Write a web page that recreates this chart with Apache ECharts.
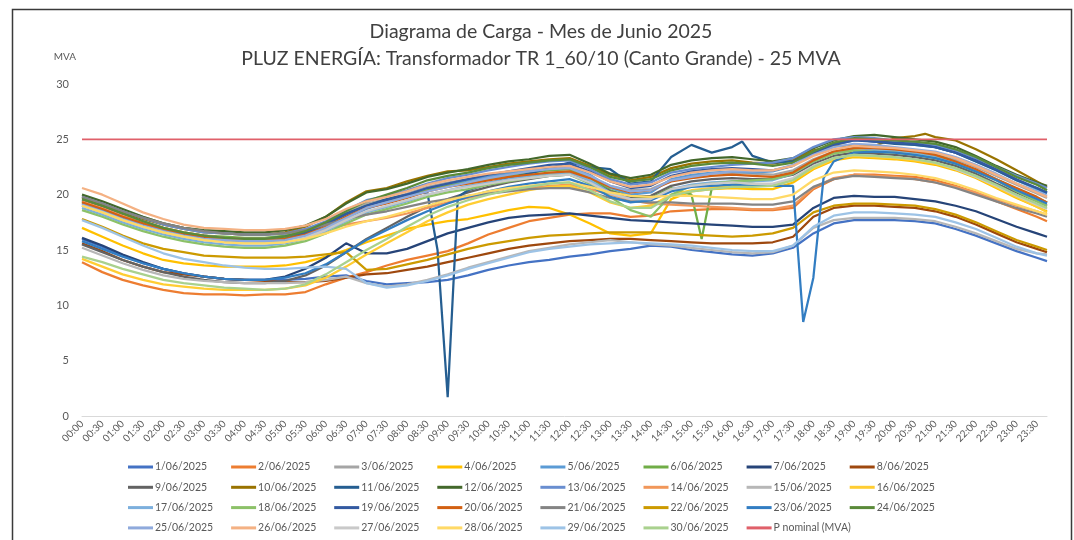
<!DOCTYPE html>
<html>
<head>
<meta charset="utf-8">
<script src="https://cdn.jsdelivr.net/npm/echarts@6/dist/echarts.min.js"></script>
<style>html,body{margin:0;padding:0;background:#fff;}#c{width:1074px;height:540px;}</style>
</head>
<body>
<div id="c"></div>
<script>
// Half-hour tick labels (x axis); data is on a 15-minute grid
const timeLabels = ["00:00","00:30","01:00","01:30","02:00","02:30","03:00","03:30","04:00","04:30","05:00","05:30",
  "06:00","06:30","07:00","07:30","08:00","08:30","09:00","09:30","10:00","10:30","11:00","11:30",
  "12:00","12:30","13:00","13:30","14:00","14:30","15:00","15:30","16:00","16:30","17:00","17:30",
  "18:00","18:30","19:00","19:30","20:00","20:30","21:00","21:30","22:00","22:30","23:00","23:30"];
const yTicks = [0, 5, 10, 15, 20, 25, 30];
const dayNames = ["1/06/2025","2/06/2025","3/06/2025","4/06/2025","5/06/2025","6/06/2025","7/06/2025","8/06/2025",
  "9/06/2025","10/06/2025","11/06/2025","12/06/2025","13/06/2025","14/06/2025","15/06/2025","16/06/2025",
  "17/06/2025","18/06/2025","19/06/2025","20/06/2025","21/06/2025","22/06/2025","23/06/2025","24/06/2025",
  "25/06/2025","26/06/2025","27/06/2025","28/06/2025","29/06/2025","30/06/2025"];
const nominalName = "P nominal (MVA)";
const pNominal = 25;

// MVA readings at 00:00, 00:30, ... 23:30 (48 values) followed by the 23:45 reading
const d01 = [16.0,15.3,14.5,13.8,13.3,12.9,12.6,12.4,12.3,12.3,12.3,12.4, 12.6,12.7,12.2,11.9,12.0,12.1,12.3,12.7,13.2,13.6,13.9,14.1, 14.4,14.6,14.9,15.1,15.4,15.3,15.0,14.8,14.6,14.5,14.7,15.2, 16.5,17.4,17.7,17.7,17.7,17.6,17.4,16.9,16.3,15.6,14.9,14.3, 14.0];
const d02 = [13.9,13.0,12.3,11.8,11.4,11.1,11.0,11.0,10.9,11.0,11.0,11.2, 11.9,12.5,13.0,13.6,14.1,14.5,14.9,15.6,16.4,17.0,17.6,17.9, 18.2,18.3,18.3,18.0,18.1,18.5,18.6,18.7,18.7,18.6,18.6,18.8, 20.5,21.4,21.8,21.8,21.7,21.6,21.3,20.8,20.2,19.4,18.7,18.0, 17.6];
const d03 = [19.9,19.3,18.6,18.0,17.4,17.0,16.7,16.5,16.4,16.4,16.5,16.8, 17.4,18.3,19.2,19.6,20.1,20.7,21.1,21.4,21.7,21.9,22.1,22.3, 22.3,21.6,20.8,20.4,20.5,21.3,21.7,21.9,22.0,21.9,21.8,22.2, 23.2,23.9,24.2,24.2,24.0,23.9,23.7,23.2,22.5,21.7,20.9,20.1, 19.7];
const d04 = [17.0,16.2,15.4,14.7,14.1,13.8,13.6,13.5,13.5,13.5,13.6,13.9, 14.4,15.0,15.7,16.3,16.9,17.3,17.6,17.8,18.2,18.6,18.9,18.8, 18.2,17.4,16.5,16.3,16.5,19.6,20.3,20.5,20.6,20.5,20.5,21.1, 22.3,23.1,23.4,23.3,23.2,23.0,22.7,22.2,21.5,20.6,19.7,18.9, 18.5];
const d05 = [19.0,18.4,17.7,17.1,16.6,16.2,15.9,15.8,15.7,15.7,15.9,16.3, 17.0,17.9,18.7,19.3,19.9,20.5,20.9,21.3,21.6,21.9,22.2,22.4, 22.5,21.8,20.6,20.0,20.2,21.4,21.8,22.0,22.1,22.0,22.1,22.6, 23.7,24.5,24.9,24.9,24.7,24.5,24.3,23.8,23.0,22.2,21.3,20.5, 20.1];
const d06 = [19.4,18.8,18.1,17.5,17.0,16.6,16.3,16.2,16.1,16.1,16.3,16.7, 17.4,18.2,19.0,19.5,19.9,20.4,20.8,21.1,21.4,21.7,22.0,22.2, 22.3,21.5,20.4,19.8,19.7,20.6,20.0,20.6,20.9,21.2,21.5,22.0, 23.0,23.8,24.2,24.3,24.1,23.9,23.6,23.0,22.2,21.4,20.5,19.7, 19.3];
const d07 = [16.1,15.4,14.6,13.9,13.3,12.9,12.6,12.4,12.3,12.3,12.6,13.3, 14.3,15.6,14.7,14.7,15.1,15.8,16.5,17.0,17.5,17.9,18.1,18.2, 18.3,18.1,17.9,17.7,17.6,17.5,17.4,17.3,17.2,17.1,17.1,17.3, 18.8,19.7,19.9,19.8,19.8,19.6,19.4,19.0,18.5,17.8,17.1,16.5, 16.2];
const d08 = [15.6,14.9,14.1,13.5,13.0,12.8,12.6,12.4,12.3,12.2,12.1,12.1, 12.2,12.5,12.8,12.9,13.2,13.5,13.9,14.3,14.7,15.1,15.4,15.6, 15.8,15.9,16.0,16.0,15.9,15.8,15.7,15.6,15.6,15.6,15.7,16.2, 18.0,18.8,19.0,19.0,18.9,18.8,18.5,18.0,17.3,16.5,15.7,15.1, 14.8];
const d09 = [15.5,14.8,14.1,13.5,13.0,12.6,12.3,12.1,12.0,12.0,12.2,12.7, 13.6,14.8,16.0,17.0,18.0,18.9,19.6,20.2,20.7,21.1,21.4,21.7, 21.8,21.2,20.3,19.8,19.9,20.8,21.2,21.4,21.5,21.4,21.4,21.8, 22.8,23.5,23.8,23.7,23.6,23.4,23.1,22.6,21.9,21.0,20.2,19.4, 19.0];
const d10 = [19.7,19.1,18.4,17.8,17.3,16.9,16.6,16.5,16.4,16.4,16.6,17.1, 18.0,19.3,20.3,20.6,21.2,21.7,22.1,22.2,22.5,22.8,23.0,23.2, 23.3,22.6,21.8,21.3,21.6,22.4,22.8,23.0,23.1,22.9,22.8,23.1, 24.0,24.4,24.4,24.4,25.1,25.3,25.2,24.9,24.1,23.2,22.2,21.2, 20.7];
const d11 = [19.5,18.9,18.2,17.6,17.0,16.5,16.3,16.1,16.0,16.0,16.2,16.6, 17.4,18.3,19.0,19.6,20.0,20.2,1.7,20.4,21.0,21.5,21.9,22.4, 22.9,22.5,22.3,21.0,21.2,23.4,24.5,23.8,24.3,23.5,22.9,23.0, 23.8,24.6,25.0,24.8,24.6,24.5,24.3,23.8,23.0,22.2,21.3,20.6, 20.2];
const d12 = [20.0,19.4,18.7,18.0,17.4,17.0,16.8,16.7,16.6,16.6,16.8,17.2, 18.0,19.2,20.2,20.5,21.0,21.6,22.0,22.3,22.7,23.0,23.2,23.5, 23.6,22.8,21.9,21.5,21.8,22.7,23.1,23.3,23.4,23.2,23.0,23.3, 24.2,24.9,25.3,25.4,25.2,25.0,24.8,24.3,23.5,22.6,21.8,21.1, 20.8];
const d13 = [19.8,19.2,18.5,17.9,17.3,16.9,16.6,16.5,16.4,16.4,16.5,16.9, 17.6,18.6,19.5,19.9,20.4,21.0,21.5,21.8,22.2,22.5,22.8,23.0, 23.1,22.3,21.4,20.9,21.1,22.0,22.3,22.5,22.7,22.8,22.9,23.3, 24.3,25.0,25.2,25.1,24.9,24.7,24.5,24.0,23.3,22.5,21.7,21.0, 20.6];
const d14 = [19.4,18.8,18.1,17.5,17.0,16.6,16.3,16.1,16.0,16.0,16.1,16.4, 16.9,17.3,17.6,17.9,18.3,18.8,19.3,19.7,20.1,20.4,20.6,20.8, 20.9,20.5,20.0,19.5,19.2,19.1,19.0,18.9,18.8,18.7,18.7,19.0, 20.6,21.5,21.8,21.7,21.6,21.4,21.1,20.7,20.2,19.6,19.0,18.5, 18.2];
const d15 = [15.2,14.5,13.8,13.2,12.7,12.4,12.2,12.1,12.0,12.0,12.0,12.1, 12.3,12.6,12.0,11.7,11.9,12.3,12.8,13.4,13.9,14.4,14.9,15.2, 15.5,15.7,15.9,15.7,15.5,15.4,15.2,15.0,14.8,14.7,14.8,15.4, 17.0,17.7,17.9,17.9,17.9,17.8,17.6,17.1,16.5,15.8,15.1,14.7, 14.6];
const d16 = [14.2,13.5,12.8,12.3,11.9,11.7,11.5,11.4,11.4,11.4,11.5,11.8, 12.5,13.5,14.6,15.6,16.6,17.6,18.4,19.1,19.6,20.0,20.4,20.7, 20.8,20.2,19.3,18.8,19.0,20.0,20.4,20.6,20.8,20.8,20.8,21.3, 22.4,23.2,23.5,23.4,23.3,23.1,22.8,22.3,21.6,20.7,19.8,18.9, 18.4];
const d17 = [18.8,18.2,17.5,16.9,16.4,16.0,15.7,15.5,15.4,15.4,15.6,16.0, 16.7,17.6,18.4,18.9,19.4,20.0,20.4,20.8,21.1,21.4,21.7,21.9, 22.0,21.3,20.2,19.6,19.5,20.5,20.9,21.1,21.2,21.2,21.3,21.9, 23.0,23.8,24.2,24.1,24.0,23.8,23.5,23.0,22.2,21.4,20.5,19.7, 19.3];
const d18 = [18.6,18.0,17.3,16.7,16.2,15.8,15.5,15.3,15.2,15.2,15.4,15.8, 16.5,17.4,18.2,18.7,19.2,19.8,20.2,20.5,20.9,21.2,21.5,21.7, 21.8,21.0,19.8,18.6,18.0,20.0,20.8,21.0,21.2,21.3,21.4,21.9, 23.0,23.7,24.0,23.9,23.8,23.6,23.3,22.8,22.1,21.3,20.3,19.4, 19.0];
const d19 = [19.2,18.6,17.9,17.3,16.8,16.4,16.1,15.9,15.8,15.8,16.0,16.5, 17.3,18.2,19.0,19.5,20.0,20.6,21.0,21.4,21.8,22.1,22.4,22.7, 22.8,22.1,21.2,20.6,20.8,21.7,22.1,22.3,22.4,22.3,22.2,22.6, 23.8,24.5,24.9,24.8,24.7,24.6,24.3,23.8,23.1,22.3,21.4,20.6, 20.2];
const d20 = [19.3,18.7,18.0,17.4,16.9,16.5,16.2,16.0,15.9,15.9,16.0,16.4, 17.1,18.0,18.8,19.2,19.7,20.3,20.7,21.0,21.3,21.6,21.8,22.0, 22.1,21.5,20.7,20.2,20.4,21.2,21.5,21.7,21.8,21.7,21.6,22.0, 23.1,23.9,24.2,24.2,24.1,23.9,23.6,23.0,22.3,21.4,20.6,19.8, 19.3];
const d21 = [19.8,19.2,18.5,17.9,17.4,17.0,16.7,16.5,16.4,16.4,16.5,16.8, 17.3,17.8,18.2,18.5,18.9,19.3,19.6,19.9,20.1,20.3,20.5,20.6, 20.6,20.2,19.7,19.4,19.3,19.3,19.2,19.2,19.2,19.1,19.1,19.4, 20.7,21.4,21.7,21.6,21.5,21.4,21.1,20.6,20.0,19.4,18.8,18.3, 18.0];
const d22 = [17.8,17.1,16.3,15.6,15.1,14.8,14.5,14.4,14.3,14.3,14.3,14.4, 14.6,14.8,13.2,13.3,13.7,14.1,14.6,15.1,15.5,15.8,16.1,16.3, 16.4,16.5,16.6,16.6,16.6,16.5,16.4,16.3,16.2,16.3,16.5,17.0, 18.4,19.0,19.2,19.2,19.1,19.0,18.7,18.2,17.5,16.7,15.9,15.3, 15.0];
const d23 = [15.8,15.1,14.4,13.8,13.3,12.9,12.6,12.4,12.3,12.3,12.5,12.9, 13.7,14.8,15.9,16.8,17.7,18.5,19.2,19.8,20.3,20.7,21.0,21.2, 21.4,20.8,19.8,19.3,19.5,20.3,20.7,20.8,20.9,20.8,20.8,20.8, 12.5,23.0,23.8,23.9,23.8,23.6,23.3,22.8,22.1,21.3,20.4,19.6, 19.2];
const d24 = [19.6,19.0,18.3,17.6,17.0,16.6,16.3,16.1,16.0,16.0,16.2,16.7, 17.5,18.5,19.4,20.0,20.6,21.3,21.7,22.0,22.4,22.7,22.9,23.1, 23.2,22.5,21.6,21.2,21.4,22.2,22.6,22.8,22.9,22.8,22.6,22.9, 23.9,24.7,25.1,25.0,24.9,24.8,24.6,24.1,23.4,22.5,21.6,20.9, 20.4];
const d25 = [19.1,18.5,17.8,17.2,16.7,16.3,16.0,15.9,15.8,15.8,15.9,16.3, 17.0,17.9,18.8,19.3,19.8,20.3,20.7,21.1,21.5,21.8,22.1,22.3, 22.4,21.7,20.8,20.3,20.4,21.3,21.6,21.9,22.1,22.1,22.2,22.7, 23.6,24.3,24.6,24.5,24.3,24.1,23.9,23.4,22.7,21.9,21.0,20.3, 19.9];
const d26 = [20.6,20.0,19.2,18.4,17.8,17.3,17.0,16.9,16.8,16.8,16.9,17.2, 17.8,18.7,19.4,19.8,20.3,20.9,21.3,21.6,21.9,22.1,22.3,22.5, 22.6,22.0,21.2,20.7,20.9,21.6,22.0,22.2,22.3,22.2,22.2,22.6, 23.5,24.1,24.4,24.3,24.2,24.0,23.8,23.3,22.6,21.8,21.0,20.2, 19.8];
const d27 = [19.0,18.4,17.7,17.1,16.6,16.2,15.9,15.7,15.6,15.6,15.7,16.1, 16.8,17.7,18.5,19.0,19.5,20.0,20.4,20.7,21.0,21.3,21.5,21.7, 21.8,21.1,20.1,19.6,19.6,20.5,20.8,21.0,21.1,21.0,21.0,21.5, 22.6,23.3,23.6,23.5,23.4,23.2,22.9,22.3,21.6,20.8,19.9,19.1, 18.7];
const d28 = [19.0,18.4,17.7,17.1,16.6,16.2,15.9,15.7,15.6,15.6,15.7,16.0, 16.5,17.1,17.6,18.0,18.5,19.0,19.5,19.9,20.3,20.6,20.8,21.0, 21.1,20.7,20.2,19.9,19.8,19.9,19.9,19.8,19.7,19.6,19.6,20.0, 21.3,22.0,22.2,22.1,22.0,21.8,21.5,21.0,20.4,19.7,19.1,18.5, 18.2];
const d29 = [17.7,17.0,16.2,15.4,14.7,14.2,13.9,13.6,13.4,13.3,13.3,13.4, 13.5,13.3,12.0,11.6,11.8,12.2,12.7,13.3,13.8,14.3,14.8,15.1, 15.3,15.5,15.6,15.7,15.6,15.5,15.4,15.2,15.0,14.9,14.9,15.4, 17.1,18.1,18.4,18.4,18.3,18.2,18.0,17.5,16.9,16.1,15.3,14.7, 14.5];
const d30 = [14.4,13.9,13.3,12.8,12.3,12.0,11.8,11.6,11.5,11.4,11.5,11.9, 12.8,13.9,15.0,16.0,17.1,18.1,18.9,19.5,20.0,20.4,20.7,21.0, 21.1,20.4,19.4,18.8,18.8,19.9,20.3,20.5,20.7,20.7,20.8,21.3, 22.5,23.3,23.6,23.5,23.4,23.2,22.9,22.4,21.7,20.9,20.0,19.2, 18.8];
const dayValues = [d01,d02,d03,d04,d05,d06,d07,d08,d09,d10,d11,d12,d13,d14,d15,d16,d17,d18,d19,d20,d21,d22,d23,d24,d25,d26,d27,d28,d29,d30];

// Extra quarter-hour readings (spikes / peaks seen between the half hours)
const extra06 = {"15:15": 16.0};
const extra10 = {"20:45": 25.5};
const extra11 = {"08:45": 15.0, "09:15": 19.8, "16:15": 24.8};
const extra23 = {"17:45": 8.5, "18:15": 21.5};
const extras = {5: extra06, 9: extra10, 10: extra11, 22: extra23};

// Excel "Office" palette order for 30 series
const seriesColors = ["#4472C4","#ED7D31","#A5A5A5","#FFC000","#5B9BD5","#70AD47",
  "#264478","#9E480E","#636363","#997300","#255E91","#43682B",
  "#698ED0","#F1975A","#B7B7B7","#FFCD33","#7CAFDD","#8CC168",
  "#335AA1","#D26012","#848484","#CC9A00","#327DC2","#5A8A39",
  "#8FAADC","#F4B183","#C9C9C9","#FFD966","#9DC3E6","#A9D18E"];
const nominalColor = "#E0606A";

// 15-minute category slots
const slots = [];
timeLabels.forEach(function (l) {
  slots.push(l);
  slots.push(l.slice(0, 3) + (l.slice(3) === "00" ? "15" : "45"));
});

function toSlots(vals, extra) {
  const arr = new Array(slots.length).fill(null);
  for (let i = 0; i < 48; i++) arr[2 * i] = vals[i];
  arr[slots.length - 1] = vals[48];
  if (extra) Object.keys(extra).forEach(function (k) { arr[slots.indexOf(k)] = extra[k]; });
  return arr;
}

const FONT = "Lato, 'Liberation Sans', sans-serif";
const series = dayNames.map(function (name, i) {
  return {
    name: name, type: "line", data: toSlots(dayValues[i], extras[i]),
    color: seriesColors[i], showSymbol: false, symbol: "none", connectNulls: true,
    lineStyle: { width: 2.25, color: seriesColors[i] },
    emphasis: { disabled: true }, animation: false
  };
});
series.push({
  name: nominalName, type: "line", data: slots.map(function () { return pNominal; }),
  color: nominalColor, showSymbol: false, symbol: "none",
  lineStyle: { width: 1.6, color: nominalColor }, emphasis: { disabled: true }, animation: false
});

const allNames = dayNames.concat([nominalName]);
const legends = [];
for (let c = 0; c < 8; c++) {
  const names = [];
  for (let r = 0; r < 4; r++) { const k = c + 8 * r; if (k < allNames.length) names.push(allNames[k]); }
  legends.push({
    data: names, orient: "vertical", left: 128 + c * 103.1, top: 461, height: 120, padding: 0,
    itemWidth: 25, itemHeight: 3, itemGap: 8.3, icon: "rect", selectedMode: false,
    itemStyle: { borderWidth: 0 },
    textStyle: { fontSize: 10.5, color: "#595959", fontFamily: FONT, lineHeight: 12, padding: [0, 0, 0, -3] }
  });
}

const chart = echarts.init(document.getElementById("c"), null, { renderer: "canvas" });
chart.setOption({
  backgroundColor: "#ffffff",
  animation: false,
  title: {
    text: "Diagrama de Carga - Mes de Junio 2025\nPLUZ ENERGÍA: Transformador TR 1_60/10 (Canto Grande) - 25 MVA",
    left: 536, top: 13, textAlign: "center",
    textStyle: { fontSize: 19.5, fontWeight: "normal", color: "#404040", fontFamily: FONT, lineHeight: 27 }
  },
  legend: legends,
  grid: { left: 82, right: 27, top: 84, bottom: 124, containLabel: false },
  xAxis: {
    type: "category", data: slots, boundaryGap: false,
    axisLine: { lineStyle: { color: "#D9D9D9", width: 1 } },
    axisTick: { show: false },
    splitLine: { show: false },
    axisLabel: { interval: 1, rotate: 45, fontSize: 10, color: "#595959", fontFamily: FONT, margin: 6 }
  },
  yAxis: {
    type: "value", min: yTicks[0], max: yTicks[yTicks.length - 1], interval: yTicks[1] - yTicks[0],
    name: "MVA", nameLocation: "end", nameGap: 27,
    nameTextStyle: { fontSize: 10, color: "#595959", fontFamily: FONT, align: "right", verticalAlign: "middle", padding: [0, 6, 0, 0] },
    axisLine: { show: false }, axisTick: { show: false }, splitLine: { show: false },
    axisLabel: { fontSize: 11, color: "#595959", fontFamily: FONT, margin: 13 }
  },
  graphic: [{
    type: "rect", left: 10, top: 7, silent: true, z: 100,
    shape: { x: 0, y: 0, width: 1059, height: 560 },
    style: { fill: "none", stroke: "#3a3a3a", lineWidth: 1.5 }
  }],
  series: series
});
</script>
</body>
</html>
